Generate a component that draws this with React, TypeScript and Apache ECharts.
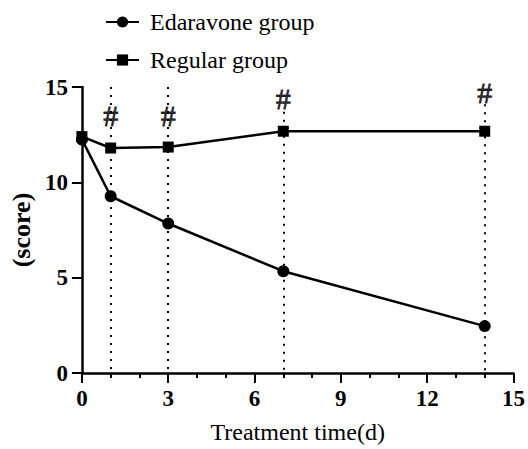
import React, { useEffect, useRef } from "react";
import * as echarts from "echarts";

const days = [0, 1, 3, 7, 14];
const edaravone = [12.25, 9.27, 7.84, 5.34, 2.46];
const regular = [12.4, 11.8, 11.85, 12.68, 12.68];
const markDays = [1, 3, 7, 14];
const markTop = [15, 15, 13.7, 14.1];
const hashY = [13.5, 13.5, 14.4, 14.7];
const xTicks = { min: 0, max: 15, interval: 3 };
const yTicks = { min: 0, max: 15, interval: 5 };

const SERIF = "'Liberation Serif', 'Times New Roman', serif";

export default function App() {
  const ref = useRef<HTMLDivElement>(null);
  useEffect(() => {
    if (!ref.current) return;
    const chart = echarts.init(ref.current, undefined, { renderer: "svg" });
    const axisLabel = {
      color: "#000",
      fontFamily: SERIF,
      fontWeight: "bold" as const,
      fontSize: 23,
    };
    chart.setOption({
      animation: false,
      backgroundColor: "#fff",
      grid: { left: 80, right: 13, top: 87, bottom: 71 },
      legend: {
        orient: "vertical",
        left: 100,
        top: 5,
        padding: 5,
        itemWidth: 33,
        itemHeight: 14,
        itemGap: 14,
        data: ["Edaravone group", "Regular group"],
        textStyle: {
          color: "#000",
          fontFamily: SERIF,
          fontSize: 24,
          lineHeight: 24,
          padding: [0, 0, 0, 6],
        },
      },
      xAxis: {
        type: "value",
        min: xTicks.min,
        max: xTicks.max,
        interval: xTicks.interval,
        name: "Treatment time(d)",
        nameLocation: "middle",
        nameGap: 47,
        nameTextStyle: { color: "#000", fontFamily: SERIF, fontSize: 24 },
        axisLine: { show: true, onZero: false, lineStyle: { color: "#000", width: 2.5 } },
        axisTick: { show: true, length: 10, lineStyle: { color: "#000", width: 2 } },
        minorTick: { show: true, splitNumber: 3, length: 5, lineStyle: { color: "#000", width: 2 } },
        splitLine: { show: false },
        axisLabel: { ...axisLabel, margin: 14 },
      },
      yAxis: {
        type: "value",
        min: yTicks.min,
        max: yTicks.max,
        interval: yTicks.interval,
        name: "(score)",
        nameLocation: "middle",
        nameGap: 44,
        nameTextStyle: { color: "#000", fontFamily: SERIF, fontSize: 26, fontWeight: "bold" },
        axisLine: { show: true, lineStyle: { color: "#000", width: 2.5 } },
        axisTick: { show: true, length: 10, lineStyle: { color: "#000", width: 2 } },
        splitLine: { show: false },
        axisLabel: { ...axisLabel, margin: 14 },
      },
      series: [
        {
          name: "Edaravone group",
          type: "line",
          data: days.map((d, i) => [d, edaravone[i]]),
          symbol: "circle",
          symbolSize: 12,
          lineStyle: { color: "#000", width: 2.5 },
          itemStyle: { color: "#000" },
          markLine: {
            silent: true,
            symbol: ["none", "none"],
            label: { show: false },
            lineStyle: { color: "#000", width: 2, type: [2, 6] },
            data: markDays.map((d, i) => [
              { coord: [d, markTop[i]] },
              { coord: [d, 0] },
            ]),
          },
        },
        {
          name: "Regular group",
          type: "line",
          data: days.map((d, i) => [d, regular[i]]),
          symbol: "rect",
          symbolSize: 11,
          lineStyle: { color: "#000", width: 2.5 },
          itemStyle: { color: "#000" },
        },
        {
          name: "hash",
          type: "scatter",
          silent: true,
          symbolSize: 0,
          itemStyle: { color: "#000" },
          data: markDays.map((d, i) => [d, hashY[i]]),
          label: {
            show: true,
            position: "inside",
            formatter: "#",
            color: "#000",
            fontFamily: SERIF,
            fontSize: 30,
            textBorderColor: "#000",
            textBorderWidth: 0.8,
          },
        },
      ],
    });
    return () => chart.dispose();
  }, []);
  return (
    <div
      ref={ref}
      style={{ position: "fixed", left: 0, top: 0, width: 528, height: 449 }}
    />
  );
}
